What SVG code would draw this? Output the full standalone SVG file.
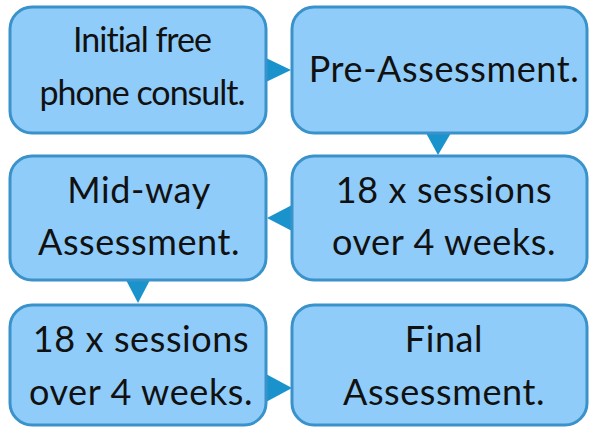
<svg xmlns="http://www.w3.org/2000/svg" width="589" height="428" viewBox="0 0 589 428">
<style>
.box{fill:#90CCF9;stroke:#3A92CB;stroke-width:3}
.arr{fill:#1A93CC}
text{font-family:Lato,"Noto Sans",sans-serif;font-size:36px;font-weight:400;letter-spacing:0.6px;fill:#111;text-anchor:middle}
.c{font-size:34px;letter-spacing:-1px}
</style>
<rect width="589" height="428" fill="#fff"/>
<g id="connectors">
<polygon class="arr" points="266,58 291,70 266,82"/>
<polygon class="arr" points="426,133 451,133 438,155"/>
<polygon class="arr" points="292,205 267,218 292,231"/>
<polygon class="arr" points="126,280 150,280 138,303"/>
<polygon class="arr" points="266,374 292,388 266,402"/>
</g>
<g id="n1"><rect class="box" x="10" y="7" width="256" height="126" rx="22"/>
<text class="c" x="142" y="52">Initial free</text><text class="c" x="142" y="105">phone consult.</text></g>
<g id="n2"><rect class="box" x="292" y="7" width="295" height="126" rx="22"/>
<text x="444" y="82">Pre-Assessment.</text></g>
<g id="n3"><rect class="box" x="292" y="156" width="295" height="124" rx="22"/>
<text x="444" y="203">18 x sessions</text><text x="444" y="255">over 4 weeks.</text></g>
<g id="n4"><rect class="box" x="10" y="156" width="256" height="124" rx="22"/>
<text x="139" y="203">Mid-way</text><text x="139" y="255">Assessment.</text></g>
<g id="n5"><rect class="box" x="10" y="305" width="256" height="120" rx="22"/>
<text x="141" y="352">18 x sessions</text><text x="141" y="405">over 4 weeks.</text></g>
<g id="n6"><rect class="box" x="292" y="305" width="295" height="120" rx="22"/>
<text x="444" y="352">Final</text><text x="444" y="405">Assessment.</text></g>
</svg>
